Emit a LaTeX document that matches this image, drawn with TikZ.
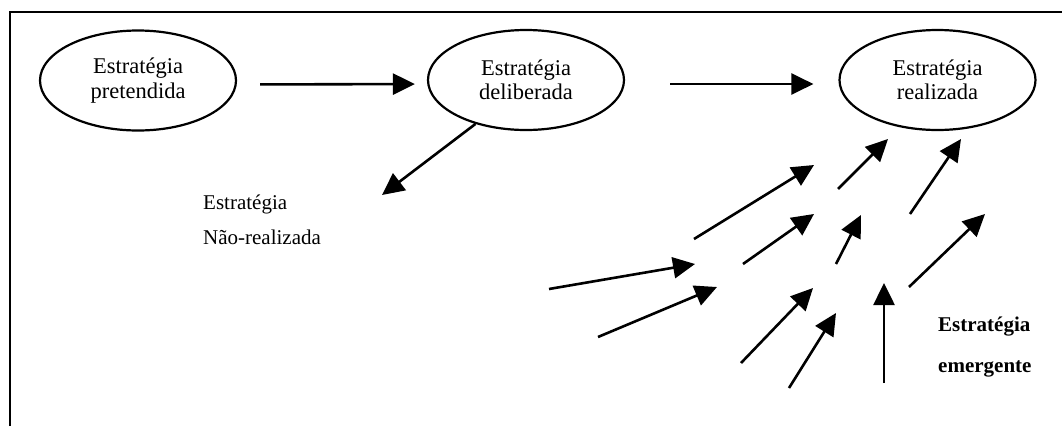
\documentclass[tikz,border=0pt]{standalone}
\usepackage{fontspec}
\setmainfont{Liberation Serif}
\usetikzlibrary{shapes.geometric,arrows.meta}
\tikzset{
  strat/.style={draw, ellipse, line width=2.2pt, minimum width=196pt,
    minimum height=100pt, inner sep=0pt, align=center,
    font=\fontsize{22.5}{24.5}\selectfont},
  flow/.style={line width=2.6pt, -{Triangle[length=22pt,width=21pt]}},
  label/.style={inner sep=0pt, align=left, anchor=west},
  frame/.style={line width=2.2pt},
}
\begin{document}
\begin{tikzpicture}[x=1pt,y=-1pt]
\useasboundingbox (0,0) rectangle (1062,426);

% open frame: top and left edges
\draw[frame] (10,426) -- (10,12) -- (1062,12);

% the three strategy ellipses
\node[strat] (pre) at (138,80.5) {Estratégia\\pretendida};
\node[strat] (del) at (526,80)   {Estratégia\\deliberada};
\node[strat] (rea) at (937.5,80) {Estratégia\\realizada};

% main flow
\draw[flow, shorten <=23pt, shorten >=12pt]
  ([yshift=-4pt]pre.east) -- ([yshift=-4pt]del.west);
\draw[flow, shorten <=45pt, shorten >=25pt]
  ([yshift=-4pt]del.east) -- ([yshift=-4pt]rea.west);

% unrealized strategy
\coordinate (nrtip) at (382,195);
\draw[flow] (del.221) -- (nrtip);
\node[label, font=\fontsize{21}{35}\selectfont] (nr) at (203,220)
  {Estratégia\\Não-realizada};

% emergent strategy arrows
\foreach \i/\sx/\sy/\ex/\ey in {
   1/549/289/695/264,
   2/598/337/717/287,
   3/694/239/814/165,
   4/743/264/814/214,
   5/741/363/813/288,
   6/789/388/836/313,
   7/836/264/861/215,
   8/838/189/888/139,
   9/884/383/884/283,
  10/910/214/961/139,
  11/909/287/985/214} {
  \coordinate (em\i s) at (\sx,\sy);
  \coordinate (em\i t) at (\ex,\ey);
  \draw[flow] (em\i s) -- (em\i t);
}
\node[label, font=\bfseries\fontsize{21}{41}\selectfont] (em) at (938,347)
  {Estratégia\\emergente};
\end{tikzpicture}
\end{document}
